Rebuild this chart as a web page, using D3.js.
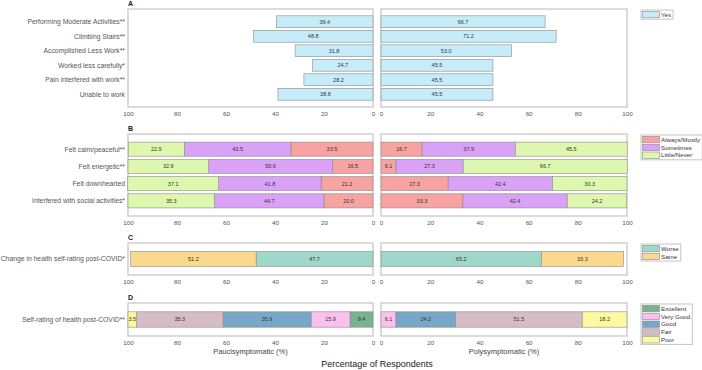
<!DOCTYPE html>
<html>
<head>
<meta charset="utf-8">
<script src="https://cdn.jsdelivr.net/npm/d3@7"></script>
<style>
  body { margin: 0; background: #fff; }
  svg { font-family: "Liberation Sans", Arial, sans-serif; }
</style>
</head>
<body>
<svg id="chart" width="702" height="370"></svg>
<script>
// --- data ---
const limitCats = ['Performing Moderate Activities**', 'Climbing Stairs**', 'Accomplished Less Work**',
  'Worked less carefully*', 'Pain interfered with work**', 'Unable to work']
const limitPauci = [39.4, 48.8, 31.8, 24.7, 28.2, 38.8]
const limitPoly = [66.7, 71.2, 53.0, 45.5, 45.5, 45.5]

const emotionCats = ['Felt calm/peaceful**', 'Felt energetic**', 'Felt downhearted', 'Interfered with social activities*']
const emotionKeys = ['Always/Mostly', 'Sometimes', 'Little/Never']
const emotionPauci = [[33.5, 43.5, 22.9], [16.5, 50.6, 32.9], [21.2, 41.8, 37.1], [20.0, 44.7, 35.3]]
const emotionPoly = [[16.7, 37.9, 45.5], [6.1, 27.3, 66.7], [27.3, 42.4, 30.3], [33.3, 42.4, 24.2]]

const changeCats = ['Change in health self-rating post-COVID*']
const changeKeys = ['Worse', 'Same']
const changePauci = [[47.7, 51.2]]
const changePoly = [[65.2, 33.3]]

const ratingCats = ['Self-rating of health post-COVID**']
const ratingKeys = ['Excellent', 'Very Good', 'Good', 'Fair', 'Poor']
const ratingPauci = [[9.4, 15.9, 35.9, 35.3, 3.5]]
const ratingPoly = [[0, 6.1, 24.2, 51.5, 18.2]]

const xTicks = [0, 20, 40, 60, 80, 100]

const colors = {
  'Yes': '#c6ecf9',
  'Always/Mostly': '#f7a3a2',
  'Sometimes': '#d9a2f6',
  'Little/Never': '#def7ae',
  'Worse': '#9fd8cb',
  'Same': '#fad98e',
  'Excellent': '#75b48f',
  'Very Good': '#fbc0ee',
  'Good': '#77a8ca',
  'Fair': '#d6bdc5',
  'Poor': '#fbfaa0'
}

const svg = d3.select('#chart')

const xLeft = d3.scaleLinear().domain([100, 0]).range([128, 373])
const xRight = d3.scaleLinear().domain([0, 100]).range([381, 627])

const panels = [
  { letter: 'A', top: 9, bottom: 107, cats: limitCats, keys: ['Yes'],
    pauci: limitPauci.map(v => [v]), poly: limitPoly.map(v => [v]) },
  { letter: 'B', top: 134, bottom: 216, cats: emotionCats, keys: emotionKeys, pauci: emotionPauci, poly: emotionPoly },
  { letter: 'C', top: 243, bottom: 275, cats: changeCats, keys: changeKeys, pauci: changePauci, poly: changePoly },
  { letter: 'D', top: 303, bottom: 336, cats: ratingCats, keys: ratingKeys, pauci: ratingPauci, poly: ratingPoly }
]

function toRows (cats, keys, values) {
  return cats.map((c, i) => {
    const row = { cat: c }
    keys.forEach((k, j) => { row[k] = values[i][j] })
    return row
  })
}

panels.forEach(p => {
  const g = svg.append('g')
  const y = d3.scaleBand().domain(p.cats).range([p.top, p.bottom])
    .paddingInner(0.18).paddingOuter(0.47)

  // panel letter
  g.append('text')
    .attr('x', 128).attr('y', p.top - 3.5)
    .attr('font-size', 7).attr('font-weight', 'bold').attr('fill', '#222')
    .text(p.letter)

  // category labels
  g.selectAll('.cat')
    .data(p.cats)
    .join('text')
    .attr('class', 'cat')
    .attr('x', 125)
    .attr('y', d => y(d) + y.bandwidth() / 2)
    .attr('dy', '0.35em')
    .attr('text-anchor', 'end')
    .attr('font-size', 6.8)
    .attr('fill', '#555')
    .text(d => d)

  const stack = d3.stack().keys(p.keys)
  const sides = [
    { x: xLeft, data: stack(toRows(p.cats, p.keys, p.pauci)) },
    { x: xRight, data: stack(toRows(p.cats, p.keys, p.poly)) }
  ]

  sides.forEach(side => {
    const x = side.x
    const [r0, r1] = x.range()
    g.append('rect')
      .attr('x', r0).attr('y', p.top)
      .attr('width', r1 - r0).attr('height', p.bottom - p.top)
      .attr('fill', '#fff').attr('stroke', '#cfcfcf').attr('stroke-width', 1.5)

    side.data.forEach(layer => {
      const segs = layer.filter(d => d[1] - d[0] > 0)
      g.selectAll(null)
        .data(segs)
        .join('rect')
        .attr('x', d => Math.min(x(d[0]), x(d[1])))
        .attr('y', d => y(d.data.cat))
        .attr('width', d => Math.abs(x(d[1]) - x(d[0])))
        .attr('height', y.bandwidth())
        .attr('fill', colors[layer.key])
        .attr('stroke', '#8c8c8c')
        .attr('stroke-width', 0.6)
      g.selectAll(null)
        .data(segs)
        .join('text')
        .attr('x', d => (x(d[0]) + x(d[1])) / 2)
        .attr('y', d => y(d.data.cat) + y.bandwidth() / 2)
        .attr('dy', '0.35em')
        .attr('text-anchor', 'middle')
        .attr('font-size', 5.5)
        .attr('fill', '#333')
        .text(d => (d[1] - d[0]).toFixed(1))
    })

    const axis = g.append('g')
      .attr('transform', `translate(0,${p.bottom})`)
      .call(d3.axisBottom(x).tickValues(xTicks).tickSize(0).tickPadding(5))
    axis.select('.domain').remove()
    axis.selectAll('text')
      .attr('font-size', 6.2).attr('fill', '#555')
      .attr('font-family', '"Liberation Sans", Arial, sans-serif')
  })

  // legend
  const leg = g.append('g').attr('transform', `translate(641,${p.top + 1})`)
  const box = leg.append('rect')
    .attr('fill', '#fff').attr('stroke', '#c4c4c4').attr('stroke-width', 1)
  const items = leg.selectAll('.item')
    .data(p.keys)
    .join('g')
    .attr('transform', (d, i) => `translate(0,${4.6 + i * 7.8})`)
  items.append('rect')
    .attr('x', 1.5).attr('y', -3.2)
    .attr('width', 17).attr('height', 6.4)
    .attr('fill', d => colors[d])
    .attr('stroke', '#8c8c8c').attr('stroke-width', 0.6)
  const labels = items.append('text')
    .attr('x', 20).attr('dy', '0.35em')
    .attr('font-size', 6.2).attr('fill', '#333')
    .text(d => d)
  let maxW = 0
  labels.each(function () { maxW = Math.max(maxW, this.getComputedTextLength()) })
  box.attr('x', 0).attr('y', 0)
    .attr('width', 20 + maxW + 2)
    .attr('height', p.keys.length * 7.8 + 1.4)
})

svg.append('text')
  .attr('x', xLeft(50)).attr('y', 354)
  .attr('text-anchor', 'middle').attr('font-size', 7.5).attr('fill', '#444')
  .text('Paucisymptomatic (%)')
svg.append('text')
  .attr('x', xRight(50)).attr('y', 354)
  .attr('text-anchor', 'middle').attr('font-size', 7.5).attr('fill', '#444')
  .text('Polysymptomatic (%)')
svg.append('text')
  .attr('x', 377).attr('y', 367)
  .attr('text-anchor', 'middle').attr('font-size', 9).attr('fill', '#222')
  .text('Percentage of Respondents')
</script>
</body>
</html>
